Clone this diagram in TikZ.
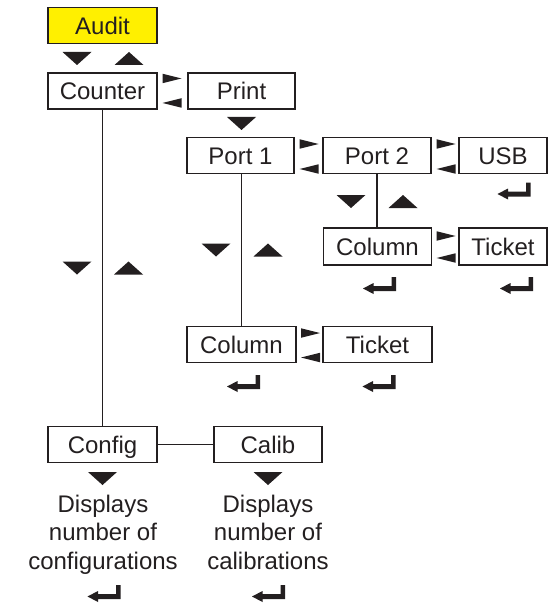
\documentclass[tikz,border=0pt]{standalone}
\usepackage{fontspec}
\setmainfont{Liberation Sans}
\definecolor{auditY}{RGB}{255,240,0}
\definecolor{ink}{RGB}{35,31,32}
\begin{document}
\begin{tikzpicture}[x=1pt,y=-1pt,
  box/.style={draw=ink, line width=1.5pt, minimum height=36pt, inner sep=0pt,
    text height=17.2pt, text depth=0pt, font=\fontsize{24}{28}\selectfont, text=ink},
  desc/.style={align=center, inner sep=0pt, font=\fontsize{24}{28.5}\selectfont, text=ink},
  conn/.style={draw=ink, line width=1.8pt},
  tridown/.pic={\fill[ink] (-14.5,-6.5) -- (14.5,-6.5) -- (0,6.5) -- cycle;},
  triup/.pic={\fill[ink] (-14.5,6.5) -- (14.5,6.5) -- (0,-6.5) -- cycle;},
  triright/.pic={\fill[ink] (-9.5,-4.75) -- (9.5,0) -- (-9.5,4.75) -- cycle;},
  trileft/.pic={\fill[ink] (9.5,-4.75) -- (-9.5,0) -- (9.5,4.75) -- cycle;},
  enterkey/.pic={\fill[ink] (-16.5,3) -- (-6,-2.5) -- (-6,0.5) -- (12,0.5) -- (12,-8.5)
     -- (16.5,-8.5) -- (16.5,5.5) -- (-6,5.5) -- (-6,8.5) -- cycle;}
]
\useasboundingbox (0,0) rectangle (549,604);

% boxes
\node[box, fill=auditY, minimum width=109pt] (audit) at (102.5,25.5) {Audit};
\node[box, minimum width=109pt] (counter) at (102.5,91) {Counter};
\node[box, minimum width=107pt] (print) at (241.5,91) {Print};
\node[box, minimum width=107pt] (port1) at (240.5,155.5) {Port 1};
\node[box, minimum width=108pt] (port2) at (377,155.5) {Port 2};
\node[box, minimum width=88pt] (usb) at (503,155.5) {USB};
\node[box, minimum width=108pt, minimum height=37pt] (col2) at (377.5,246.5) {Column};
\node[box, minimum width=88pt, minimum height=37pt] (tic2) at (503,246.5) {Ticket};
\node[box, minimum width=109pt] (col1) at (241.5,344.5) {Column};
\node[box, minimum width=109pt] (tic1) at (377.5,344.5) {Ticket};
\node[box, minimum width=109pt] (config) at (102.5,444.5) {Config};
\node[box, minimum width=108pt] (calib) at (268,444.5) {Calib};

% connectors
\draw[conn] (counter.south) -- (config.north);
\draw[conn] (col1.north) -- (col1.north |- port1.south);
\draw[conn] (port2.south) -- (port2.south |- col2.north);
\draw[conn] (config.east) -- (calib.west);

% descriptions
\node[desc, anchor=north] (cfgtxt) at (103,494.5) {Displays\\number of\\configurations};
\node[desc, anchor=north] (caltxt) at (268,494.5) {Displays\\number of\\calibrations};

% navigation triangles
\pic at (77,58.5) {tridown};
\pic at (129,58.5) {triup};
\pic at (172,78.5) {triright};
\pic at (172,103) {trileft};
\pic at (241.5,123.5) {tridown};
\pic at (309,144) {triright};
\pic at (309,169) {trileft};
\pic at (446,144) {triright};
\pic at (446,169) {trileft};
\pic at (351,201.5) {tridown};
\pic at (403,201.5) {triup};
\pic at (446,236) {triright};
\pic at (446,258) {trileft};
\pic at (216,250) {tridown};
\pic at (268,250) {triup};
\pic at (77,268) {tridown};
\pic at (128.5,268) {triup};
\pic at (310.5,333) {triright};
\pic at (310.5,357.5) {trileft};
\pic at (102.5,478.5) {tridown};
\pic at (268,478.5) {tridown};

% enter symbols
\pic at (514,191) {enterkey};
\pic at (379.5,285.5) {enterkey};
\pic at (516.5,285.5) {enterkey};
\pic at (243.5,383.5) {enterkey};
\pic at (379,383.5) {enterkey};
\pic at (104,593.5) {enterkey};
\pic at (268.5,593.5) {enterkey};
\end{tikzpicture}
\end{document}
